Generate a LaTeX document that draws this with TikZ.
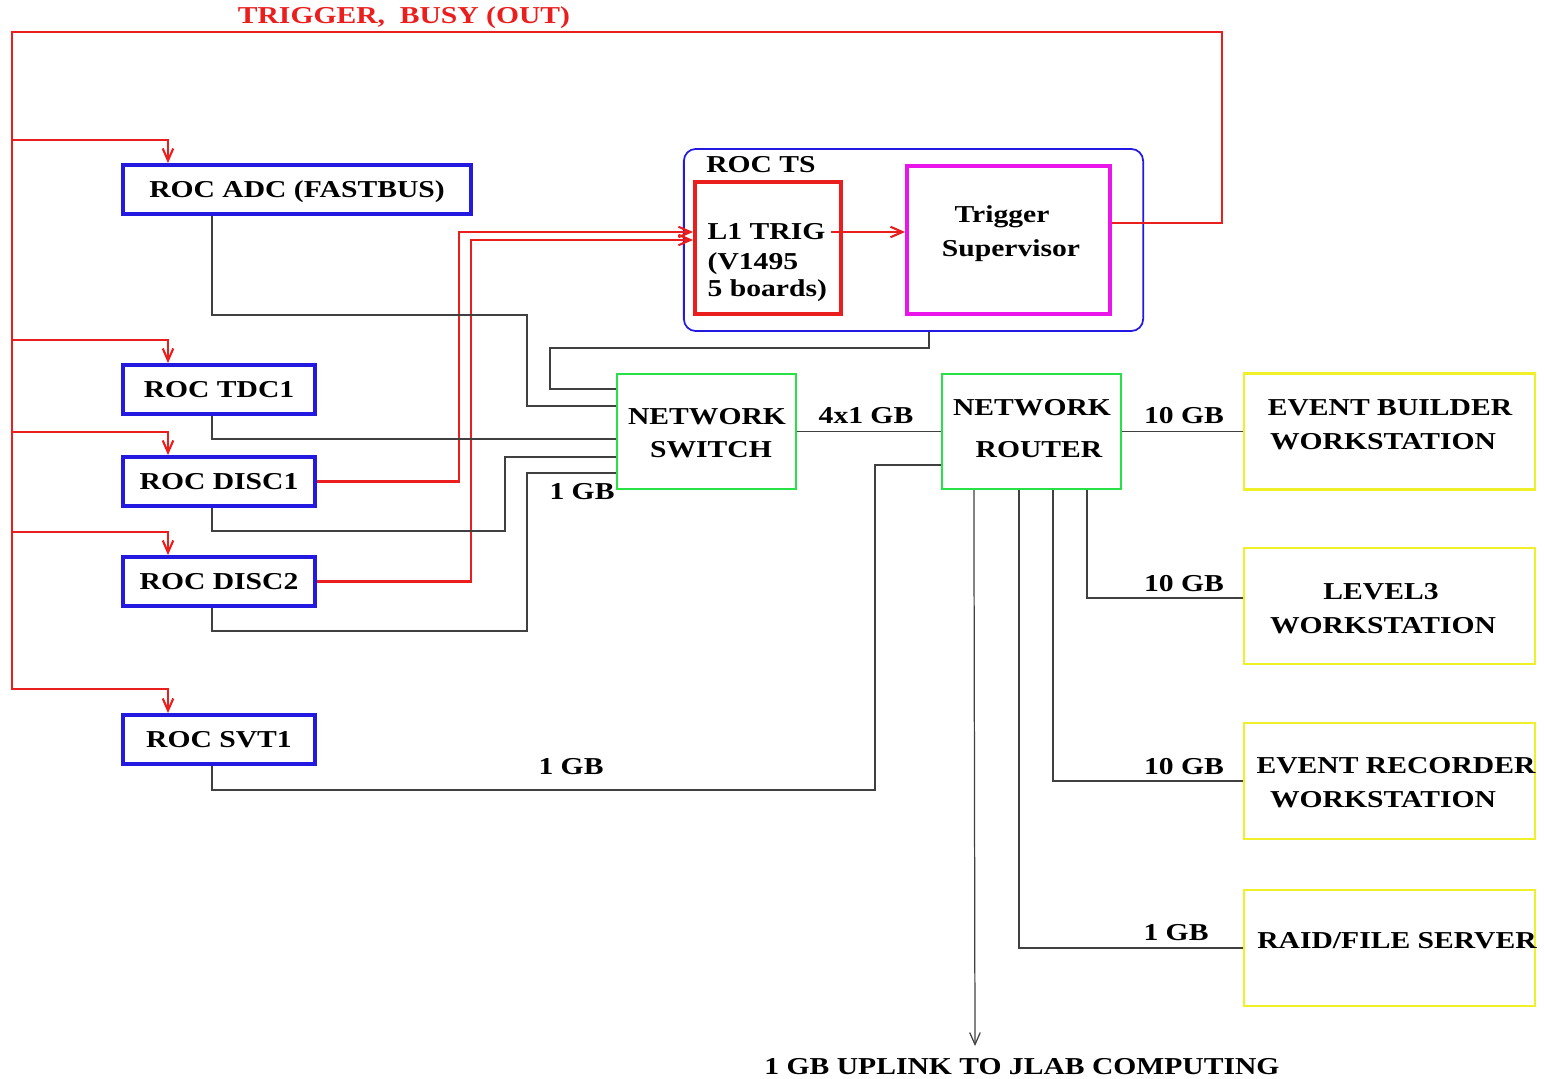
\documentclass[tikz,border=0pt]{standalone}
\usepackage{fontspec}
\setmainfont{Liberation Serif}[FakeStretch=1.22]
\usetikzlibrary{arrows.meta,calc,positioning}

\begin{document}
\begin{tikzpicture}[x=0.01cm, y=-0.01cm,
    every node/.style={font=\fontsize{6.9}{8}\selectfont\bfseries, inner sep=0pt},
    >={Straight Barb[length=3.4pt,width=3pt]},
    rocbox/.style={draw=cRoc, line width=1.1pt, minimum width=1.92cm, minimum height=0.49cm,
                   text height=0.16cm, text depth=0pt},
    netbox/.style={draw=cNet, line width=0.6pt, minimum width=1.79cm, minimum height=1.15cm},
    wsbox/.style={draw=cWs, line width=0.7pt, minimum width=2.91cm, minimum height=1.16cm},
    txt/.style={anchor=base},
    net/.style={draw=black!75, line width=0.35pt},
    trig/.style={draw=cTrig, line width=0.6pt}]
  % Colours of the boxes and signal lines
  \definecolor{cRoc}{RGB}{35, 25, 225}    % readout controllers
  \definecolor{cTrig}{RGB}{235, 30, 30}   % trigger lines
  \definecolor{cSup}{RGB}{235, 20, 235}   % trigger supervisor
  \definecolor{cNet}{RGB}{40, 225, 70}    % network gear
  \definecolor{cWs}{RGB}{240, 240, 40}    % workstations

  \useasboundingbox (0,0) rectangle (1545,1079);

  % Readout controllers
  \node[rocbox, minimum width=3.48cm] (adc) at (297,189.5) {ROC ADC (FASTBUS)};
  \node[rocbox] (tdc)   at (219,389.5) {ROC TDC1};
  \node[rocbox] (disca) at (219,481.5) {ROC DISC1};
  \node[rocbox] (discb) at (219,581.5) {ROC DISC2};
  \node[rocbox] (svt)   at (219,739.5) {ROC SVT1};

  % Trigger crate
  \node[draw=cRoc, line width=0.5pt, rounded corners=3.4pt, minimum width=4.59cm, minimum height=1.82cm] (rocts) at (913.5,240) {};
  \node[txt] (rocname) at (761,173) {ROC TS};
  \node[draw=cTrig, line width=1.1pt, minimum width=1.46cm, minimum height=1.32cm] (l1) at (768,248) {};
  \node[txt, anchor=base west] (l1a) at (707,240) {L1 TRIG};
  \node[txt, anchor=base west] (l1b) at (707,269) {(V1495};
  \node[txt, anchor=base west] (l1c) at (707,297) {5 boards)};
  \node[draw=cSup, line width=1.1pt, minimum width=2.03cm, minimum height=1.48cm] (ts) at (1008.5,240) {};
  \node[txt] (tsa) at (1002,223) {Trigger};
  \node[txt] (tsb) at (1011,257) {Supervisor};

  % Network
  \node[netbox] (switch) at (706.5,431.5) {};
  \node[txt] (swa) at (707,424) {NETWORK};
  \node[txt] (swb) at (711,457) {SWITCH};
  \node[netbox] (router) at (1031.5,431.5) {};
  \node[txt] (rta) at (1032,415) {NETWORK};
  \node[txt] (rtb) at (1039,457) {ROUTER};

  % Workstations
  \node[wsbox] (eb) at (1389.5,431.5) {};
  \node[txt] (eba) at (1390,415) {EVENT BUILDER};
  \node[txt] (ebb) at (1383,449) {WORKSTATION};
  \node[wsbox] (lthree) at (1389.5,606) {};
  \node[txt] (l3a) at (1381,599) {LEVEL3};
  \node[txt] (l3b) at (1383,633) {WORKSTATION};
  \node[wsbox] (er) at (1389.5,781) {};
  \node[txt] (era) at (1396,773) {EVENT RECORDER};
  \node[txt] (erb) at (1383,807) {WORKSTATION};
  \node[wsbox] (raid) at (1389.5,948) {};
  \node[txt] (raida) at (1397,948) {RAID/FILE SERVER};

  % Trigger and busy distribution
  \node[txt, text=cTrig] (trigtitle) at (404,24) {TRIGGER,\ \ BUSY (OUT)};
  \draw[trig,->] ($(ts.east)+(0,-17)$) -| (1222,32) -| (12,689) -| ($(svt.north west)+(47,0)$);
  \foreach \roc/\yy in {adc/140, tdc/340, disca/432, discb/532}
    \draw[trig,->] (12,\yy) -| ($(\roc.north west)+(47,0)$);
  \draw[trig,->] (disca.east) -| (459,232) -- ($(l1.west)+(0,-16)$);
  \draw[trig,->] (discb.east) -| (471,240) -- ($(l1.west)+(0,-8)$);
  \draw[trig,->] ($(l1.east)+(-12,-16)$) -- ($(ts.west)+(0,-8)$);

  % Data links to the switch
  \draw[net] ($(adc.south west)+(91,0)$) |- (527,315) |- ($(switch.west)+(0,-25.5)$);
  \draw[net] ($(rocts.south west)+(246,0)$) |- (550,348) |- ($(switch.west)+(0,-42.5)$);
  \draw[net] ($(tdc.south west)+(91,0)$) |- ($(switch.west)+(0,7.5)$);
  \draw[net] ($(disca.south west)+(91,0)$) |- (505,531) |- ($(switch.west)+(0,25.5)$);
  \draw[net] ($(discb.south west)+(91,0)$) |- (527,631) |- ($(switch.west)+(0,41.5)$);
  \node[txt] (swrate) at (582,499) {1 GB};

  % Router links
  \draw[net] (switch) -- (router);
  \node[txt] (trunk) at (866,423) {4x1 GB};
  \draw[net] ($(svt.south west)+(91,0)$) |- (875,790) |- ($(router.west)+(0,33.5)$);
  \node[txt] (svtrate) at (571,774) {1 GB};
  \draw[net] (router) -- (eb);
  \node[txt] (ebrate) at (1184,423) {10 GB};
  \draw[net] ($(router.south west)+(146,0)$) |- ($(lthree.west)+(0,-8)$);
  \node[txt] (l3rate) at (1184,591) {10 GB};
  \draw[net] ($(router.south west)+(112,0)$) |- (er.west);
  \node[txt] (errate) at (1184,774) {10 GB};
  \draw[net] ($(router.south west)+(78,0)$) |- (raid.west);
  \node[txt] (raidrate) at (1176,940) {1 GB};

  % Uplink
  \coordinate (uplink) at (975,1046);
  \draw[net,->] ($(router.south west)+(33,0)$) -- (uplink);
  \node[txt] (uplinktxt) at (1022,1074) {1 GB UPLINK TO JLAB COMPUTING};
\end{tikzpicture}
\end{document}
